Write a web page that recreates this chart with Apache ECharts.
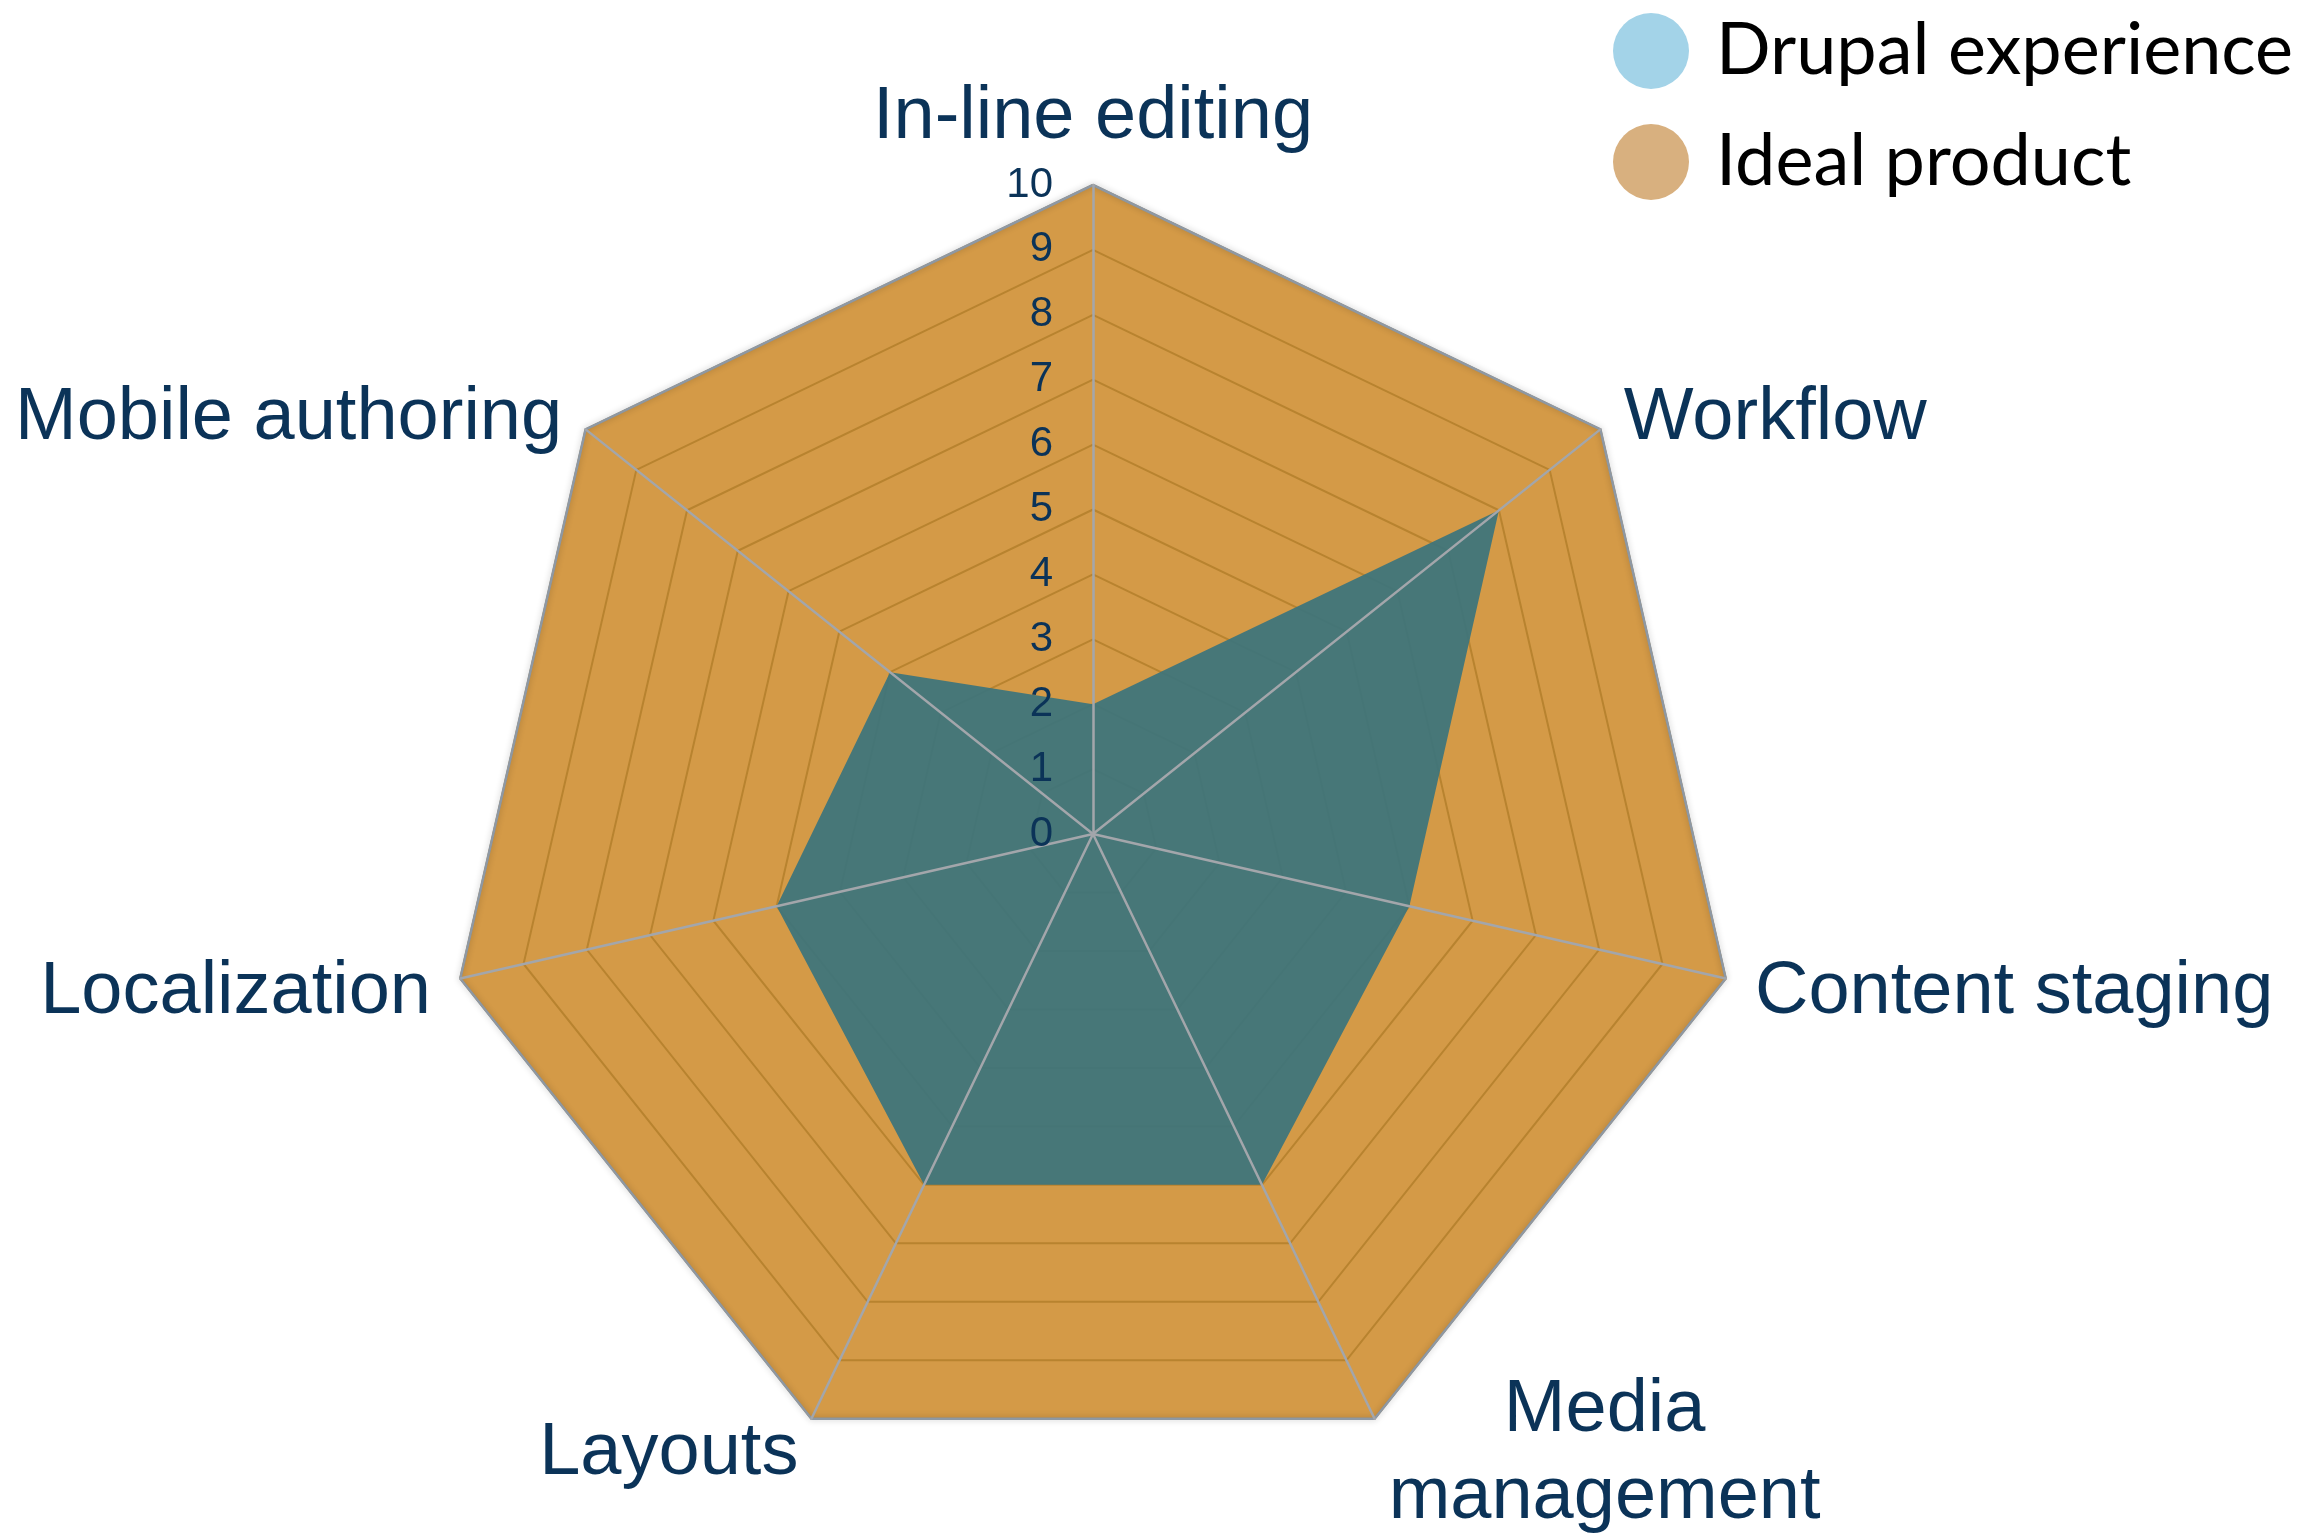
<!DOCTYPE html>
<html>
<head>
<meta charset="utf-8">
<script src="https://cdn.jsdelivr.net/npm/echarts@6/dist/echarts.min.js"></script>
<style>
  html, body { margin: 0; padding: 0; background: #ffffff; }
  #chart { width: 2323px; height: 1537px; }
</style>
</head>
<body>
<div id="chart"></div>
<script>
// indicators in ECharts order (counter-clockwise from the top)
var indicators = ['In-line editing', 'Mobile authoring', 'Localization', 'Layouts', 'Media\nmanagement', 'Content staging', 'Workflow'];
var maxValue = 10;
var drupal = [2, 4, 5, 6, 6, 5, 8];
var ideal = [10, 10, 10, 10, 10, 10, 10];
var seriesNames = ['Drupal experience', 'Ideal product'];

var chartDom = document.getElementById('chart');
var myChart = echarts.init(chartDom);
var option;

var navy = '#0b3358';
var center = [1093, 834];
var radius = 649;

var baseIndicators = indicators.map(function (n) {
    return { name: n, min: 0, max: maxValue };
});
// overlay radar: spokes + tick labels drawn above the series
var overlayIndicators = indicators.map(function (n, i) {
    var ind = { name: n, min: 0, max: maxValue };
    if (i === 0) {
        ind.axisLabel = {
            show: true,
            color: navy,
            fontFamily: 'Liberation Sans',
            fontSize: 42,
            margin: 40
        };
    }
    return ind;
});

option = {
    backgroundColor: '#ffffff',
    legend: {
        orient: 'vertical',
        left: 1608,
        top: 8,
        icon: 'circle',
        itemWidth: 120,
        itemHeight: 76,
        itemGap: 35,
        data: seriesNames,
        textStyle: {
            fontFamily: 'Lato',
            fontSize: 72,
            color: '#000000'
        }
    },
    radar: [
        {
            center: center,
            radius: radius,
            startAngle: 90,
            splitNumber: 10,
            shape: 'polygon',
            indicator: baseIndicators,
            axisName: {
                color: navy,
                fontFamily: 'Liberation Sans',
                fontSize: 74,
                padding: [16, 0, 0, 0],
                formatter: function (name) {
                    if (name.indexOf('\n') >= 0) {
                        return name.split('\n').map(function (s) {
                            return '{c|' + s + '}';
                        }).join('\n');
                    }
                    return name;
                },
                rich: {
                    c: {
                        width: 434,
                        align: 'center',
                        color: navy,
                        fontFamily: 'Liberation Sans',
                        fontSize: 74,
                        lineHeight: 87
                    }
                }
            },
            nameGap: 30,
            axisLine: { show: false },
            axisTick: { show: false },
            axisLabel: { show: false },
            splitLine: {
                lineStyle: { color: '#b8832f', width: 2 }
            },
            splitArea: {
                areaStyle: { color: ['#d49a47'] }
            }
        },
        {
            center: center,
            radius: radius,
            startAngle: 90,
            splitNumber: 10,
            shape: 'polygon',
            z: 5,
            indicator: overlayIndicators,
            axisName: { show: false },
            axisLine: {
                show: true,
                lineStyle: { color: '#a3a6ab', width: 2.5 }
            },
            axisTick: { show: false },
            axisLabel: { show: false },
            splitLine: { show: false },
            splitArea: { show: false }
        }
    ],
    series: [
        {
            name: seriesNames[1],
            type: 'radar',
            radarIndex: 0,
            symbol: 'none',
            silent: true,
            itemStyle: { color: '#d8b07f' },
            lineStyle: {
                color: '#8e98a3',
                width: 2.5,
                shadowColor: 'rgba(0,0,0,0.25)',
                shadowBlur: 6
            },
            data: [{ value: ideal, name: seriesNames[1] }]
        },
        {
            name: seriesNames[0],
            type: 'radar',
            radarIndex: 0,
            symbol: 'none',
            silent: true,
            itemStyle: { color: '#a3d3e8' },
            lineStyle: { width: 0, opacity: 0 },
            areaStyle: { color: '#3c747c', opacity: 0.93 },
            data: [{ value: drupal, name: seriesNames[0] }]
        }
    ]
};
option && myChart.setOption(option);
</script>
</body>
</html>
